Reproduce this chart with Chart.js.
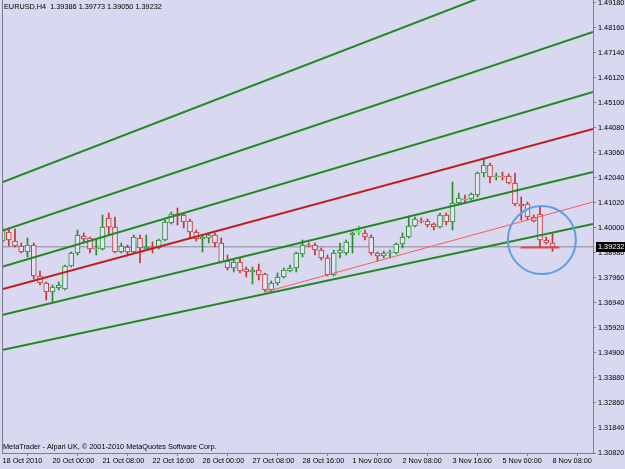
<!DOCTYPE html>
<html>
<head>
<meta charset="utf-8">
<title>EURUSD,H4</title>
<script src="https://cdn.jsdelivr.net/npm/chart.js@4.4.1/dist/chart.umd.min.js"></script>
<style>
  html, body { margin: 0; padding: 0; background: #d8d8f0; }
  canvas { display: block; }
</style>
</head>
<body>
<canvas id="chart" width="625" height="469"></canvas>
<script>
// H4 candles, first bar is 18 Oct 2010 16:00, last one is 8 Nov 2010 08:00
const opens = [
  1.39470, 1.39837, 1.39470, 1.39266, 1.39021, 1.39306, 1.38042, 1.37756, 1.37389, 1.37552,
  1.37511, 1.38450, 1.38980, 1.39674, 1.39592, 1.39143, 1.39143, 1.40408, 1.40041, 1.39021,
  1.39225, 1.39021, 1.39592, 1.39143, 1.39225, 1.39184, 1.39510, 1.40204, 1.40571, 1.40530,
  1.40286, 1.39837, 1.39551, 1.39592, 1.39714, 1.39388, 1.38654, 1.38368, 1.38613, 1.38327,
  1.38205, 1.38286, 1.38123, 1.37470, 1.37756, 1.38001, 1.38246, 1.38368, 1.38939, 1.39306,
  1.39306, 1.39102, 1.38776, 1.38082, 1.38980, 1.38980, 1.39714, 1.39837, 1.39796, 1.39633,
  1.38980, 1.38858, 1.38980, 1.38980, 1.39347, 1.39633, 1.40082, 1.40286, 1.40286, 1.40163,
  1.40041, 1.40530, 1.40245, 1.41020, 1.41183, 1.41183, 1.41346, 1.42244, 1.42570, 1.42081,
  1.42122, 1.42122, 1.41836, 1.40979, 1.40979, 1.40449, 1.40571, 1.39510, 1.39386
];
const highs = [
  1.40000, 1.40000, 1.39959, 1.39388, 1.39592, 1.39388, 1.38246, 1.37797, 1.37674, 1.37797,
  1.38490, 1.39021, 1.39918, 1.39796, 1.39633, 1.39510, 1.40530, 1.40612, 1.40449, 1.39388,
  1.39306, 1.39714, 1.39714, 1.39714, 1.39429, 1.39551, 1.40326, 1.40653, 1.40816, 1.40612,
  1.40367, 1.39918, 1.39714, 1.39796, 1.39796, 1.39592, 1.38898, 1.38694, 1.38776, 1.38409,
  1.38409, 1.38531, 1.38164, 1.37838, 1.38164, 1.38368, 1.38490, 1.39021, 1.39510, 1.39388,
  1.39388, 1.39184, 1.38898, 1.39102, 1.39388, 1.39510, 1.39837, 1.40082, 1.39918, 1.39714,
  1.39021, 1.39062, 1.39102, 1.39388, 1.39796, 1.40490, 1.40449, 1.40408, 1.40367, 1.40204,
  1.40612, 1.40612, 1.41877, 1.41428, 1.41346, 1.41428, 1.42285, 1.42815, 1.42652, 1.42244,
  1.42285, 1.42203, 1.42244, 1.41265, 1.41061, 1.40530, 1.40857, 1.39633, 1.39773
];
const lows = [
  1.39388, 1.39266, 1.39225, 1.38980, 1.38817, 1.37919, 1.37674, 1.37062, 1.36981, 1.37470,
  1.37470, 1.38409, 1.38898, 1.39429, 1.38980, 1.38898, 1.39102, 1.39714, 1.38980, 1.38980,
  1.38858, 1.38980, 1.38572, 1.39102, 1.38980, 1.39143, 1.39470, 1.40163, 1.40122, 1.40000,
  1.39592, 1.39470, 1.39021, 1.39388, 1.39225, 1.38572, 1.38286, 1.38205, 1.38164, 1.38001,
  1.37715, 1.37878, 1.37389, 1.37389, 1.37674, 1.37960, 1.38205, 1.38205, 1.38817, 1.39225,
  1.38898, 1.38694, 1.38042, 1.38042, 1.38776, 1.38898, 1.38980, 1.39714, 1.39510, 1.38898,
  1.38654, 1.38776, 1.38776, 1.38939, 1.39184, 1.39592, 1.40041, 1.40204, 1.40041, 1.39918,
  1.40000, 1.40122, 1.39918, 1.40938, 1.41020, 1.41142, 1.41265, 1.42081, 1.41836, 1.41958,
  1.41958, 1.41795, 1.40898, 1.40326, 1.40326, 1.40245, 1.39225, 1.39347, 1.39050
];
const closes = [
  1.39959, 1.39510, 1.39266, 1.39021, 1.39306, 1.38042, 1.37756, 1.37389, 1.37593, 1.37674,
  1.38450, 1.38980, 1.39714, 1.39551, 1.39143, 1.39184, 1.40041, 1.40041, 1.39021, 1.39266,
  1.39021, 1.39633, 1.39184, 1.39225, 1.39184, 1.39510, 1.40245, 1.40571, 1.40490, 1.40245,
  1.39837, 1.39551, 1.39633, 1.39714, 1.39388, 1.38613, 1.38368, 1.38613, 1.38246, 1.38205,
  1.38286, 1.38082, 1.37470, 1.37756, 1.38001, 1.38286, 1.38368, 1.38980, 1.39306, 1.39266,
  1.39102, 1.38776, 1.38082, 1.38980, 1.39102, 1.39429, 1.39796, 1.39837, 1.39633, 1.38980,
  1.38858, 1.38980, 1.39021, 1.39347, 1.39633, 1.40082, 1.40367, 1.40245, 1.40122, 1.40041,
  1.40530, 1.40245, 1.41020, 1.41224, 1.41142, 1.41387, 1.42244, 1.42570, 1.42081, 1.42122,
  1.42081, 1.41836, 1.40979, 1.40898, 1.40449, 1.40286, 1.39510, 1.39388, 1.39232
];

// Time axis, a label every 8 bars
const xTickBars = [0, 8, 16, 24, 32, 40, 48, 56, 64, 72, 80, 88];
const xTickLabels = ['18 Oct 2010', '20 Oct 00:00', '21 Oct 08:00', '22 Oct 16:00', '26 Oct 00:00',
  '27 Oct 08:00', '28 Oct 16:00', '1 Nov 00:00', '2 Nov 08:00', '3 Nov 16:00', '5 Nov 00:00', '8 Nov 08:00'];

// Price axis labels
const yTickLabels = ['1.49180', '1.48160', '1.47140', '1.46120', '1.45100', '1.44080', '1.43060',
  '1.42040', '1.41020', '1.40000', '1.38980', '1.37960', '1.36940', '1.35920', '1.34900',
  '1.33880', '1.32860', '1.31840', '1.30820'];

// Visible window (bars / prices)
const barMin = -0.08, barMax = 94.48;
const priceMin = 1.30820, priceMax = 1.49302;

// Drawn objects: channel fan lines, from left edge to right edge
const greenLineStart = [1.41865, 1.39890, 1.38421, 1.36450, 1.35022];
const greenLineEnd = [1.51171, 1.47997, 1.45549, 1.42285, 1.40163];
const redLineStart = 1.37499, redLineEnd = 1.44039;
// thin trend line from the 27 Oct low
const trendStartBar = 42, trendStart = 1.37389, trendEnd = 1.41061;
// short flat line and the circle around the last bars
const flatLineBars = [82.9, 89.1], flatLinePrice = 1.39200;
const circleBar = 86.3, circlePrice = 1.39510, circleRadiusBars = 5.44, circleRadiusPrice = 0.0139;
// current bid
const bidPrice = 1.39232;

const headerText = 'EURUSD,H4  1.39386 1.39773 1.39050 1.39232';
const footerText = 'MetaTrader - Alpari UK, \u00a9 2001-2010 MetaQuotes Software Corp.';

// Colours
const bgColor = '#d8d8f0';
const bullColor = '#2b8a2b';
const bearColor = '#c83232';
const dojiColor = '#22e022';
const bodyFill = '#e2e4f4';
const frameColor = '#7c7c8c';

const candleColors = opens.map((o, i) => closes[i] > o ? bullColor : (closes[i] < o ? bearColor : dojiColor));
const wickData = highs.map((h, i) => ({ x: i, y: [lows[i], h] }));
const bodyData = opens.map((o, i) => ({ x: i, y: [o, closes[i]] }));

function segment(x0, y0, x1, y1) {
  return [{ x: x0, y: y0 }, { x: x1, y: y1 }];
}

function lineSet(data, color, width) {
  return {
    type: 'line',
    data: data,
    borderColor: color,
    borderWidth: width,
    pointRadius: 0,
    fill: false,
    order: 1
  };
}

const datasets = [
  // bid line under everything
  { ...lineSet(segment(barMin, bidPrice, barMax, bidPrice), '#8a8a96', 1), order: 6 },
  {
    type: 'bar',
    data: wickData,
    backgroundColor: candleColors,
    borderWidth: 0,
    barThickness: 1,
    grouped: false,
    order: 5
  },
  {
    type: 'bar',
    data: bodyData,
    backgroundColor: bodyFill,
    borderColor: candleColors,
    borderWidth: 1,
    borderSkipped: false,
    barThickness: 5,
    minBarLength: 1,
    grouped: false,
    order: 4
  }
];

greenLineStart.forEach((p, i) => {
  datasets.push(lineSet(segment(barMin, p, barMax, greenLineEnd[i]), '#228822', 2));
});
datasets.push(lineSet(segment(barMin, redLineStart, barMax, redLineEnd), '#c01e1e', 2));
datasets.push(lineSet(segment(trendStartBar, trendStart, barMax, trendEnd), '#ff5a5a', 1));
datasets.push(lineSet(segment(flatLineBars[0], flatLinePrice, flatLineBars[1], flatLinePrice), '#e04848', 2));

// Background, frame, header texts, circle and the bid price box
const mtDecor = {
  id: 'mtDecor',
  beforeDraw(chart) {
    const ctx = chart.ctx;
    ctx.save();
    ctx.fillStyle = bgColor;
    ctx.fillRect(0, 0, chart.width, chart.height);
    ctx.restore();
  },
  afterDatasetsDraw(chart) {
    const { ctx, scales: { x, y } } = chart;
    const cx = x.getPixelForValue(circleBar);
    const cy = y.getPixelForValue(circlePrice);
    const rx = Math.abs(x.getPixelForValue(circleBar + circleRadiusBars) - cx);
    const ry = Math.abs(y.getPixelForValue(circlePrice + circleRadiusPrice) - cy);
    ctx.save();
    ctx.strokeStyle = '#5c9ee6';
    ctx.lineWidth = 2;
    ctx.beginPath();
    ctx.ellipse(cx, cy, rx, ry, 0, 0, Math.PI * 2);
    ctx.stroke();
    ctx.restore();
  },
  afterDraw(chart) {
    const { ctx, chartArea, scales: { y } } = chart;
    ctx.save();
    // left frame line
    ctx.strokeStyle = frameColor;
    ctx.lineWidth = 1;
    ctx.beginPath();
    ctx.moveTo(chartArea.left + 0.5, chartArea.top);
    ctx.lineTo(chartArea.left + 0.5, chartArea.bottom);
    ctx.stroke();

    ctx.font = '7.3px "Liberation Sans"';
    ctx.fillStyle = '#000';
    ctx.textBaseline = 'middle';
    ctx.textAlign = 'left';
    ctx.fillText(headerText, 4, 7);
    ctx.fillText(footerText, 3, 447);

    // bid price tag on the axis
    const by = y.getPixelForValue(bidPrice);
    ctx.fillStyle = '#000';
    ctx.fillRect(chartArea.right + 3, Math.round(by) - 5, 30, 10);
    ctx.fillStyle = '#fff';
    ctx.fillText(bidPrice.toFixed(5), chartArea.right + 5, by);
    ctx.restore();
  }
};

Chart.defaults.font.family = 'Liberation Sans';
Chart.defaults.font.size = 7.3;
Chart.defaults.color = '#000';

new Chart(document.getElementById('chart'), {
  type: 'bar',
  data: { datasets },
  options: {
    responsive: false,
    animation: false,
    devicePixelRatio: 1,
    layout: { padding: { left: 2, top: 0, right: 0, bottom: 0 }, autoPadding: false },
    plugins: {
      legend: { display: false },
      tooltip: { enabled: false }
    },
    scales: {
      x: {
        type: 'linear',
        min: barMin,
        max: barMax,
        offset: false,
        grid: { drawOnChartArea: false, tickLength: 3, color: frameColor },
        border: { color: frameColor },
        ticks: {
          autoSkip: false,
          maxRotation: 0,
          align: 'start',
          padding: 1,
          callback: (v, i) => xTickLabels[i]
        },
        afterBuildTicks: scale => {
          scale.ticks = xTickBars.map(v => ({ value: v }));
        },
        afterFit: scale => {
          scale.height = 16;
          scale.paddingLeft = 0;
          scale.paddingRight = 0;
        }
      },
      y: {
        type: 'linear',
        position: 'right',
        min: priceMin,
        max: priceMax,
        grid: { drawOnChartArea: false, tickLength: 3, color: frameColor },
        border: { color: frameColor },
        ticks: {
          padding: 2,
          autoSkip: false,
          callback: v => v.toFixed(5)
        },
        afterBuildTicks: scale => {
          scale.ticks = yTickLabels.map(s => ({ value: Number(s) }));
        },
        afterFit: scale => {
          scale.width = 32;
          scale.paddingTop = 0;
          scale.paddingBottom = 0;
        }
      }
    }
  },
  plugins: [mtDecor]
});
</script>
</body>
</html>
